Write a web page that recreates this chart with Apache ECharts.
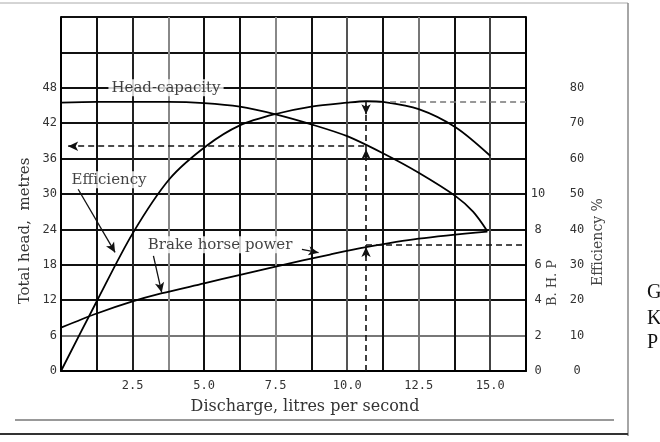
<!DOCTYPE html>
<html lang="en" style="height: 100%">
<head>
  <meta charset="utf-8">
</head>
<body style="height: 100%; margin: 0; background: #fff">
  <div id="container" style="width: 660px; height: 442px"></div>

  <script type="text/javascript" src="https://fastly.jsdelivr.net/npm/echarts@6/dist/echarts.min.js"></script>
  <script type="text/javascript">
// head-capacity curve: [discharge l/s, total head m]
var headCapacity = [[0, 45.5], [1.25, 45.6], [2.5, 45.6], [3.75, 45.6], [5, 45.4], [6.25, 44.8], [7.5, 43.5],
  [8.75, 41.8], [10, 39.8], [11.25, 36.9], [12.5, 33.6], [13.8, 29.6], [14.4, 27.0], [14.9, 23.7]];
// efficiency curve: [discharge l/s, efficiency %]
var efficiency = [[0, 0], [1.25, 19.7], [2.5, 38.8], [3.8, 54.3], [5.1, 63.7], [6.25, 69.4], [7.5, 72.6],
  [8.75, 74.7], [10, 75.8], [10.66, 76.2], [11.25, 76], [12.5, 74], [13.8, 68.8], [15, 60.8]];
// brake horse power curve: [discharge l/s, B.H.P]
var brakePower = [[0, 2.45], [1.25, 3.25], [2.5, 3.93], [3.5, 4.38], [5, 4.95], [6.3, 5.45], [7.5, 5.9],
  [9.4, 6.58], [10.66, 7.0], [12.5, 7.48], [14.9, 7.88]];

// operating point
var dutyQ = 10.66, dutyHead = 38.1, dutyEff = 76.1, dutyBhp = 7.12;

// curve names written on the chart, in [discharge, head] units
var notes = [
  { name: 'Head-capacity', value: [3.67, 48] },
  { name: 'Efficiency', value: [1.68, 32.4] },
  { name: 'Brake horse power', value: [5.56, 21.4] }
];
// leader arrows from the names to the curves, [discharge, head] units
var leaders = [
  [[0.6, 30.8], [1.89, 20.1]],
  [[3.23, 19.5], [3.52, 13.3]],
  [[8.42, 20.6], [9.0, 20.05]]
];

var tickFont = { fontFamily: 'DejaVu Sans Mono', fontSize: 12, color: '#333' };
var serif = 'DejaVu Serif';

var dom = document.getElementById('container');
var myChart = echarts.init(dom, null, { renderer: 'canvas' });

function arrowSeg(a, b, style) {
  return [{ coord: a, symbol: 'none', lineStyle: style }, { coord: b, symbol: 'arrow' }];
}

var dash = { type: [6, 4], color: '#111', width: 1.6 };
var solid = { type: 'solid', color: '#111', width: 1.3 };

var option = {
  animation: false,
  backgroundColor: '#fff',
  grid: { left: 61, top: 17, width: 465, height: 354 },
  xAxis: {
    type: 'value', min: 0, max: 16.25, interval: 1.25,
    axisLine: { show: true, onZero: false, lineStyle: { color: '#000', width: 2 } },
    axisTick: { show: false },
    axisLabel: Object.assign({
      margin: 9,
      formatter: function (v) {
        return (v > 0 && v <= 15 && Math.abs(v / 2.5 - Math.round(v / 2.5)) < 1e-6) ? v.toFixed(1) : '';
      }
    }, tickFont),
    splitLine: {
      show: true,
      lineStyle: {
        width: 2,
        color: ['#000', '#111', '#222', '#888', '#111', '#111', '#888', '#111', '#555', '#111', '#777', '#111', '#444', '#111']
      }
    }
  },
  yAxis: [
    {
      type: 'value', min: 0, max: 60, interval: 6,
      axisLine: { show: true, lineStyle: { color: '#000', width: 2 } },
      axisTick: { show: false },
      axisLabel: Object.assign({ margin: 4, formatter: function (v) { return v <= 48 ? v : ''; } }, tickFont),
      splitLine: {
        show: true,
        lineStyle: { width: 2, color: ['#000', '#777', '#111', '#111', '#111', '#111', '#111', '#111', '#111', '#111', '#111'] }
      }
    },
    {
      type: 'value', position: 'right', min: 0, max: 20, interval: 2,
      axisLine: { show: true, lineStyle: { color: '#000', width: 2 } },
      axisTick: { show: false },
      splitLine: { show: false },
      axisLabel: Object.assign({ margin: 12, align: 'center', formatter: function (v) { return v <= 10 ? v : ''; } }, tickFont)
    },
    {
      type: 'value', position: 'right', offset: 36, min: 0, max: 100, interval: 10,
      axisLine: { show: false },
      axisTick: { show: false },
      splitLine: { show: false },
      axisLabel: Object.assign({ margin: 15, align: 'center', formatter: function (v) { return v <= 80 ? v : ''; } }, tickFont)
    }
  ],
  series: [
    {
      name: 'Head-capacity', type: 'line', yAxisIndex: 0, data: headCapacity,
      smooth: 0.3, symbol: 'none', lineStyle: { color: '#000', width: 1.8 },
      markLine: {
        silent: true, symbolSize: [7, 10], label: { show: false },
        data: [
          [{ coord: [0.25, dutyHead], symbol: 'arrow', lineStyle: dash }, { coord: [dutyQ, dutyHead], symbol: 'none' }],
          arrowSeg([dutyQ, dutyHead - 2], [dutyQ, dutyHead - 0.5], dash)
        ].concat(leaders.map(function (l) { return arrowSeg(l[0], l[1], solid); }))
      }
    },
    {
      name: 'Efficiency', type: 'line', yAxisIndex: 2, data: efficiency,
      smooth: 0.3, symbol: 'none', lineStyle: { color: '#000', width: 1.8 },
      markLine: {
        silent: true, symbolSize: [7, 10], label: { show: false },
        data: [
          [{ coord: [dutyQ, 0], symbol: 'none', lineStyle: dash }, { coord: [dutyQ, dutyEff], symbol: 'none' }],
          arrowSeg([dutyQ, dutyEff], [dutyQ, 72.5], dash),
          [{ coord: [11.5, dutyEff], symbol: 'none', lineStyle: { type: [6, 4], color: '#777', width: 1.5 } }, { coord: [16.25, dutyEff], symbol: 'none' }]
        ]
      }
    },
    {
      name: 'Brake horse power', type: 'line', yAxisIndex: 1, data: brakePower,
      smooth: 0.3, symbol: 'none', lineStyle: { color: '#000', width: 1.8 },
      markLine: {
        silent: true, symbolSize: [7, 10], label: { show: false },
        data: [
          [{ coord: [dutyQ, dutyBhp], symbol: 'none', lineStyle: dash }, { coord: [16.25, dutyBhp], symbol: 'none' }],
          arrowSeg([dutyQ, dutyBhp - 0.7], [dutyQ, dutyBhp - 0.12], dash)
        ]
      }
    },
    {
      name: 'notes', type: 'scatter', yAxisIndex: 0, data: notes, silent: true,
      symbolSize: 1, itemStyle: { color: 'rgba(0,0,0,0)' }, z: 5,
      label: {
        show: true, position: 'inside', formatter: '{b}',
        fontFamily: serif, fontSize: 15, color: '#111',
        backgroundColor: '#fff', padding: [1, 3]
      }
    }
  ],
  graphic: [
    { type: 'text', x: 25, y: 231, rotation: Math.PI / 2, style: { text: 'Total head,  metres', font: '15px ' + serif, fill: '#333', align: 'center', verticalAlign: 'middle' } },
    { type: 'text', x: 305, y: 407, style: { text: 'Discharge, litres per second', font: '16px ' + serif, fill: '#333', align: 'center', verticalAlign: 'middle' } },
    { type: 'text', x: 553, y: 283, rotation: Math.PI / 2, style: { text: 'B. H. P', font: '13px ' + serif, fill: '#444', align: 'center', verticalAlign: 'middle' } },
    { type: 'text', x: 598, y: 242, rotation: Math.PI / 2, style: { text: 'Efficiency %', font: '14px ' + serif, fill: '#444', align: 'center', verticalAlign: 'middle' } },
    { type: 'text', x: 647, y: 293, style: { text: 'G', font: '20px Liberation Serif', fill: '#111', verticalAlign: 'middle' } },
    { type: 'text', x: 647, y: 319, style: { text: 'K', font: '20px Liberation Serif', fill: '#111', verticalAlign: 'middle' } },
    { type: 'text', x: 647, y: 343, style: { text: 'P', font: '20px Liberation Serif', fill: '#111', verticalAlign: 'middle' } },
    { type: 'line', shape: { x1: 0, y1: 3, x2: 628, y2: 3 }, style: { stroke: '#aaa', lineWidth: 1 } },
    { type: 'line', shape: { x1: 628, y1: 3, x2: 628, y2: 436 }, style: { stroke: '#888', lineWidth: 1.5 } },
    { type: 'line', shape: { x1: 15, y1: 420, x2: 614, y2: 420 }, style: { stroke: '#999', lineWidth: 2 } },
    { type: 'line', shape: { x1: 0, y1: 434, x2: 628, y2: 434 }, style: { stroke: '#333', lineWidth: 2 } }
  ]
};

myChart.setOption(option);
window.addEventListener('resize', myChart.resize);
  </script>
</body>
</html>
